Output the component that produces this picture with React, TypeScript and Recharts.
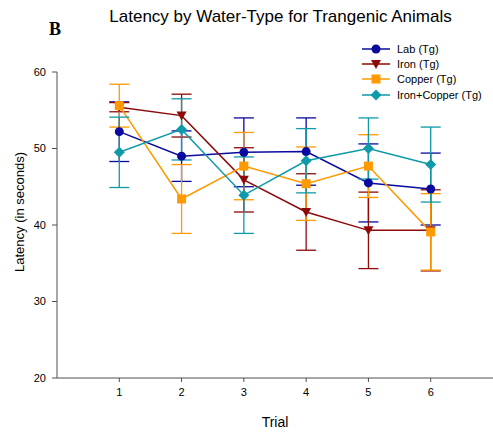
import React from 'react';
import { LineChart, Line, XAxis, YAxis, ErrorBar, Label } from 'recharts';

const trials = [1, 2, 3, 4, 5, 6];
const seriesNames = ['Lab (Tg)', 'Iron (Tg)', 'Copper (Tg)', 'Iron+Copper (Tg)'];
const labMean = [52.2, 49.0, 49.5, 49.6, 45.5, 44.7];
const labErr = [3.9, 3.3, 4.5, 4.4, 5.1, 4.7];
const ironMean = [55.4, 54.3, 45.9, 41.7, 39.3, 39.3];
const ironErr = [0.6, 2.8, 4.2, 5.0, 5.0, 5.3];
const copperMean = [55.6, 43.4, 47.7, 45.4, 47.7, 39.1];
const copperErr = [2.8, 4.5, 4.4, 4.8, 4.1, 5.0];
const ironCuMean = [49.5, 52.5, 43.9, 48.4, 50.0, 47.9];
const ironCuErr = [4.6, 4.0, 5.0, 4.2, 4.0, 4.9];
const yTicks = [20, 30, 40, 50, 60];

const data = trials.map((t, i) => ({
  trial: t,
  lab: labMean[i], labErr: labErr[i],
  iron: ironMean[i], ironErr: ironErr[i],
  copper: copperMean[i], copperErr: copperErr[i],
  ironCu: ironCuMean[i], ironCuErr: ironCuErr[i],
}));

const FONT = '"Liberation Sans", Arial, sans-serif';
const AXIS = '#505050';

type Kind = 'circle' | 'triangle' | 'square' | 'diamond';

const series: Array<{ key: string; err: string; name: string; color: string; kind: Kind }> = [
  { key: 'lab', err: 'labErr', name: seriesNames[0], color: '#0a0a9e', kind: 'circle' },
  { key: 'iron', err: 'ironErr', name: seriesNames[1], color: '#8c0a0a', kind: 'triangle' },
  { key: 'copper', err: 'copperErr', name: seriesNames[2], color: '#ff9900', kind: 'square' },
  { key: 'ironCu', err: 'ironCuErr', name: seriesNames[3], color: '#0e9aa8', kind: 'diamond' },
];

const Marker = ({ cx, cy, kind, color }: { cx: number; cy: number; kind: Kind; color: string }) => {
  if (cx == null || cy == null) return null;
  if (kind === 'circle') return <circle cx={cx} cy={cy} r={4.5} fill={color} />;
  if (kind === 'square') return <rect x={cx - 4.5} y={cy - 4.5} width={9} height={9} fill={color} />;
  if (kind === 'triangle')
    return <polygon points={`${cx - 5},${cy - 4} ${cx + 5},${cy - 4} ${cx},${cy + 5}`} fill={color} />;
  return <polygon points={`${cx},${cy - 5.5} ${cx + 5.5},${cy} ${cx},${cy + 5.5} ${cx - 5.5},${cy}`} fill={color} />;
};

// legend drawn as plain html so it doesn't eat into the plot area
const LegendBox = () => (
  <div style={{ position: 'absolute', left: 362, top: 41, fontFamily: FONT, fontSize: 11, color: '#000' }}>
    {series.map((s) => (
      <div key={s.key} style={{ display: 'flex', alignItems: 'center', height: 15.4 }}>
        <svg width={35} height={12}>
          <line x1={0} y1={6} x2={28} y2={6} stroke={s.color} strokeWidth={1.5} />
          <Marker cx={14} cy={6} kind={s.kind} color={s.color} />
        </svg>
        <span>{s.name}</span>
      </div>
    ))}
  </div>
);

export default function App() {
  return (
    <div style={{ position: 'absolute', left: 0, top: 0, width: 493, height: 432, background: '#fff' }}>
      <LineChart width={493} height={432} data={data} margin={{ top: 72, right: 0, bottom: 0, left: 0 }}>
        <XAxis
          dataKey="trial"
          type="number"
          domain={[0, 7]}
          ticks={trials}
          tickSize={4}
          tickMargin={6}
          stroke={AXIS}
          tick={{ fill: '#000', fontSize: 11, fontFamily: FONT }}
          height={54}
        >
          <Label value="Trial" position="insideBottom" offset={5} style={{ fill: '#000', fontSize: 14, fontFamily: FONT }} />
        </XAxis>
        <YAxis
          type="number"
          domain={[20, 60]}
          ticks={yTicks}
          tickSize={5}
          tickMargin={6}
          width={57}
          stroke={AXIS}
          tick={{ fill: '#000', fontSize: 11, fontFamily: FONT }}
        >
          <Label
            content={() => (
              <text
                x={19}
                y={212}
                transform="rotate(-90 19 212)"
                textAnchor="middle"
                dominantBaseline="central"
                style={{ fill: '#000', fontSize: 13, fontFamily: FONT }}
              >
                Latency (in seconds)
              </text>
            )}
          />
        </YAxis>
        {series.map((s) => (
          <Line
            key={s.key}
            dataKey={s.key}
            name={s.name}
            stroke={s.color}
            strokeWidth={1.5}
            isAnimationActive={false}
            dot={(p: any) => <Marker key={`${s.key}-${p.index}`} cx={p.cx} cy={p.cy} kind={s.kind} color={s.color} />}
            activeDot={false}
          >
            <ErrorBar dataKey={s.err} width={10} stroke={s.color} strokeWidth={1.3} direction="y" />
          </Line>
        ))}
      </LineChart>
      <div style={{ position: 'absolute', left: 0, width: 493, top: 7, textAlign: 'center', fontFamily: FONT, fontSize: 17, paddingLeft: 68, boxSizing: 'border-box' }}>
        Latency by Water-Type for Trangenic Animals
      </div>
      <div style={{ position: 'absolute', left: 49, top: 19, fontFamily: '"Liberation Serif", "Times New Roman", serif', fontWeight: 'bold', fontSize: 18 }}>
        B
      </div>
      <LegendBox />
    </div>
  );
}
